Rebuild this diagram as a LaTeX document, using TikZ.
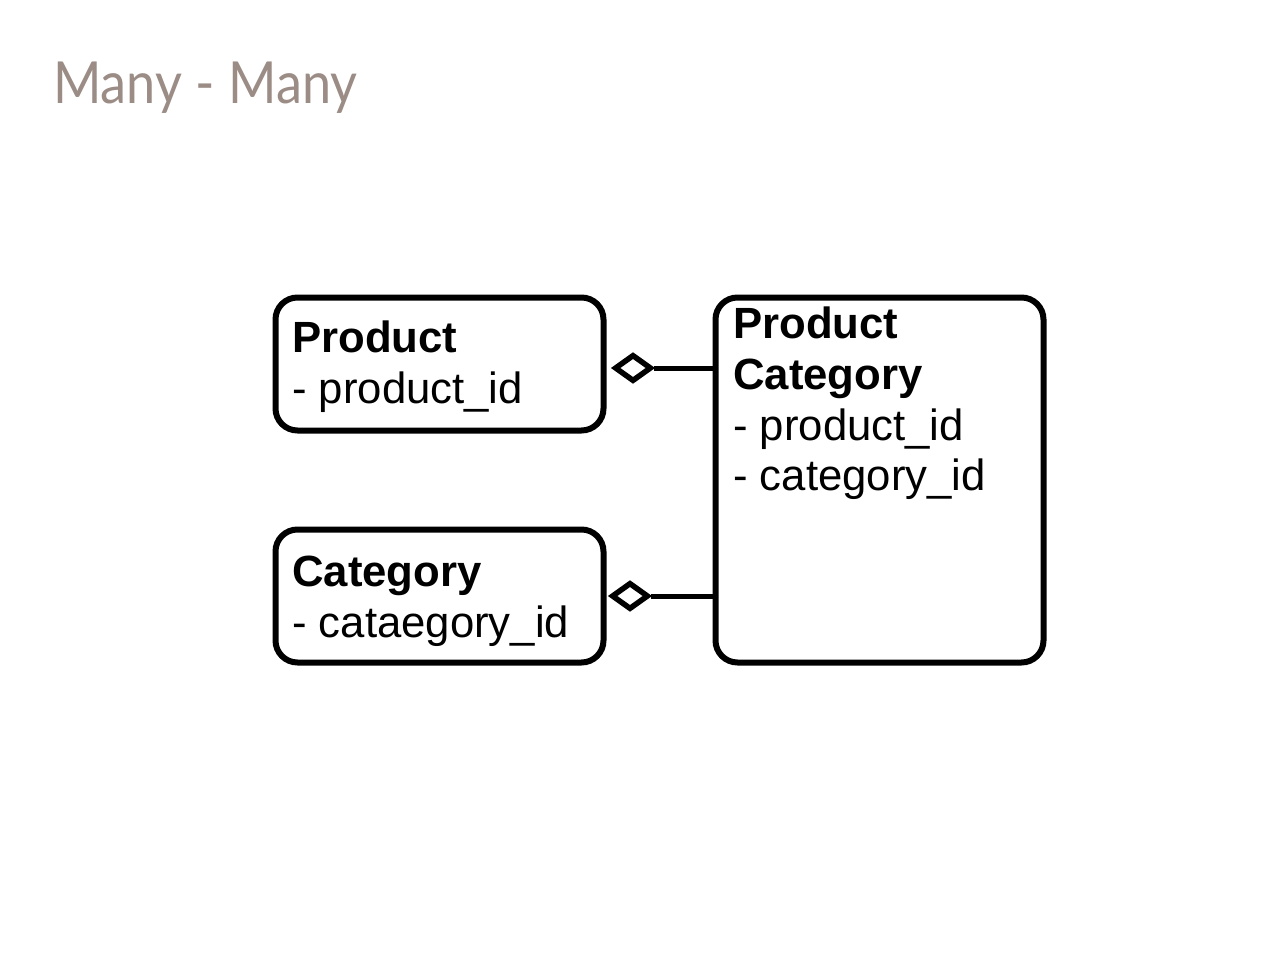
\documentclass[tikz,border=0pt]{standalone}
\usepackage{fontspec}
\setmainfont{Liberation Sans}
\newfontfamily\titlefont[FakeStretch=0.9]{Lato}
\usetikzlibrary{shapes.geometric}
\definecolor{titlecol}{RGB}{155,140,134}
\tikzset{
  entity/.style={draw=black, line width=6pt, rounded corners=22pt, minimum width=328pt, inner sep=0pt},
  field/.style={anchor=base west, inner sep=0pt, font=\fontsize{43.7}{51}\selectfont},
  fieldtitle/.style={field, font=\fontsize{43.7}{51}\selectfont\bfseries},
  agg/.style={draw=black, line width=5.5pt, shape=diamond, aspect=1.35, minimum width=37pt, minimum height=27pt, inner sep=0pt, fill=white},
  conn/.style={draw=black, line width=5pt}
}
\begin{document}
\begin{tikzpicture}[x=1pt,y=-1pt]
\path[use as bounding box, fill=white] (0,0) rectangle (1280,960);
\node[anchor=base west, inner sep=0pt, text=titlecol, font=\titlefont\fontsize{58}{64}\selectfont] (title) at (53,104) {Many - Many};

\node[entity, minimum height=133pt] (prod) at (439.5,364) {};
\node[entity, minimum height=133pt] (cat) at (439.5,596) {};
\node[entity, minimum height=365pt] (pc) at (879.5,480) {};

\node[fieldtitle] (prodname) at (292,352) {Product};
\node[field] (prodf1) at (292,403) {- product\_id};

\node[fieldtitle] (catname) at (292,586) {Category};
\node[field] (catf1) at (292,637) {- cataegory\_id};

\node[fieldtitle] (pcname1) at (733,338) {Product};
\node[fieldtitle] (pcname2) at (733,389) {Category};
\node[field] (pcf1) at (733,440) {- product\_id};
\node[field] (pcf2) at (733,490) {- category\_id};

\node[agg] (d1) at (633,368) {};
\node[agg] (d2) at (630,596) {};
\draw[conn] (d1.east) -- (d1.east -| pc.west);
\draw[conn] (d2.east) -- (d2.east -| pc.west);
\end{tikzpicture}
\end{document}
